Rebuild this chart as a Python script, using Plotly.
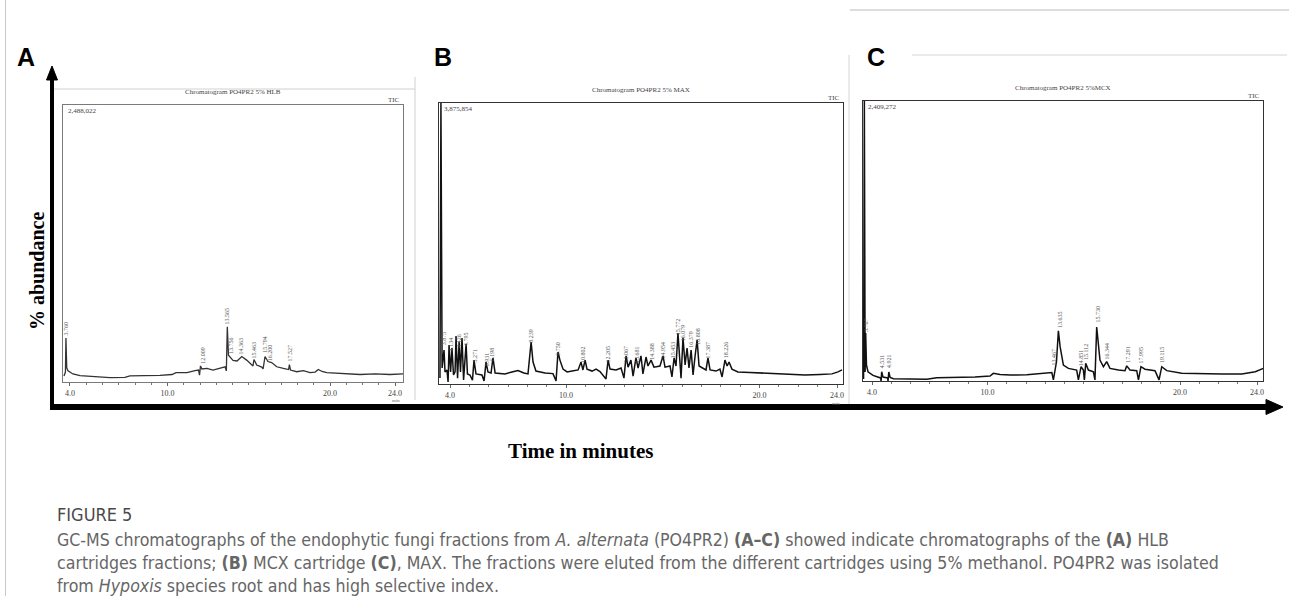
import plotly.graph_objects as go

# ---------------- data ----------------
# Panel A : HLB   (time in minutes, relative abundance in % of frame height)
A_time = [3.63, 3.72, 3.75, 3.80, 3.88, 4.18, 4.62, 5.42, 6.46, 7.38,
          7.69, 9.54, 10.28, 10.52, 11.20, 11.69, 11.91, 11.97, 12.03, 12.12,
          12.43, 12.80, 13.23, 13.54, 13.62, 13.68, 13.75, 13.85, 14.03, 14.28,
          14.57, 14.87, 15.18, 15.26, 15.32, 15.49, 15.80, 15.88, 16.00, 16.18,
          16.41, 16.72, 17.13, 17.45, 17.50, 17.57, 17.95, 18.36, 18.77, 19.08,
          19.28, 19.51, 19.80, 21.03, 21.85, 22.77, 23.69, 24.49]
A_abund = [2.2, 3.6, 15.9, 5.1, 4.0, 2.9, 2.3, 1.9, 1.6, 1.7,
           2.2, 2.4, 2.7, 3.4, 3.4, 4.1, 4.3, 2.5, 5.8, 4.7,
           4.9, 4.3, 5.1, 5.5, 4.0, 19.9, 9.7, 9.0, 7.8, 7.6,
           9.2, 7.9, 6.5, 5.8, 8.1, 6.1, 5.4, 4.7, 9.2, 7.4,
           7.0, 5.5, 4.9, 4.5, 6.3, 4.3, 3.7, 4.1, 3.4, 3.6,
           4.5, 3.8, 3.4, 2.9, 2.7, 2.9, 2.7, 2.9]
A_peak_time = [3.78, 12.18, 13.66, 13.94, 14.58, 15.32, 16.00, 16.30, 17.48]
A_peak_base = [16.2, 6.0, 20.2, 9.4, 9.4, 7.9, 9.7, 6.9, 6.5]
A_peak_text = ["3.760", "12.009", "13.565", "13.756", "14.363", "15.463",
               "15.794", "16.200", "17.527"]

# Panel B : MAX
B_time = [3.48, 3.53, 3.59, 3.69, 3.74, 3.84, 3.90, 3.95, 4.03, 4.10,
          4.18, 4.26, 4.31, 4.39, 4.47, 4.54, 4.62, 4.70, 4.83, 4.90,
          5.03, 5.16, 5.24, 5.34, 5.65, 5.76, 5.86, 5.96, 6.12, 6.22,
          6.33, 6.84, 7.20, 7.51, 7.82, 8.03, 8.19, 8.29, 8.44, 8.91,
          9.32, 9.48, 9.58, 9.68, 9.84, 10.05, 10.31, 10.62, 10.77, 10.87,
          10.98, 11.08, 11.34, 11.55, 11.75, 12.06, 12.17, 12.27, 12.58, 12.84,
          12.99, 13.10, 13.20, 13.35, 13.46, 13.61, 13.72, 13.87, 13.97, 14.13,
          14.23, 14.39, 14.54, 14.85, 15.01, 15.11, 15.37, 15.47, 15.58, 15.68,
          15.78, 15.89, 15.94, 16.04, 16.15, 16.25, 16.35, 16.46, 16.56, 16.66,
          16.77, 16.87, 17.08, 17.23, 17.33, 17.44, 17.75, 17.95, 18.06, 18.21,
          18.32, 18.42, 18.57, 18.88, 19.50, 20.02, 20.80, 21.57, 22.35, 23.12,
          23.74, 24.05, 24.26]
B_abund = [2.1, 100.0, 5.7, 12.1, 4.3, 5.0, 0.7, 13.9, 4.3, 12.8,
           3.2, 4.3, 17.1, 2.1, 14.9, 4.3, 16.4, 1.4, 14.2, 3.6,
           3.2, 1.4, 8.5, 3.6, 3.2, 1.1, 7.8, 4.3, 3.9, 9.3,
           3.9, 3.6, 4.3, 4.8, 3.9, 3.6, 14.9, 7.8, 4.6, 3.9,
           3.7, 1.1, 11.4, 8.5, 5.3, 4.3, 4.6, 5.0, 7.8, 5.0,
           8.5, 5.3, 4.6, 5.3, 4.4, 1.8, 8.5, 5.3, 5.0, 5.7,
           2.1, 10.0, 6.0, 8.5, 2.8, 9.3, 5.7, 10.0, 3.6, 9.6,
           6.4, 8.5, 6.0, 6.4, 10.0, 6.0, 6.4, 2.5, 9.3, 6.4,
           18.1, 7.8, 2.1, 16.4, 6.8, 12.8, 5.7, 12.1, 3.2, 9.6,
           15.7, 6.4, 5.7, 5.0, 9.3, 5.0, 4.6, 5.3, 2.5, 8.5,
           6.4, 7.8, 5.3, 4.3, 4.1, 3.9, 3.6, 3.4, 3.2, 3.4,
           3.6, 4.3, 5.0]
B_peak_time = [3.66, 4.05, 4.45, 4.83, 5.27, 5.93, 6.19, 8.17, 9.58, 10.90,
               12.17, 13.10, 13.70, 14.40, 15.00, 15.50, 15.78, 16.08, 16.42,
               16.80, 17.33, 18.25]
B_peak_base = [13.2, 10.9, 12.1, 12.8, 6.8, 5.7, 7.5, 13.9, 9.3, 6.8,
               6.8, 6.8, 6.8, 7.8, 8.5, 8.5, 16.8, 14.6, 12.1, 13.3,
               8.5, 8.5]
B_peak_text = ["3.875", "4.134", "4.426", "4.795", "5.271", "5.931", "6.198",
               "8.239", "9.750", "10.802", "12.205", "13.067", "13.681",
               "14.388", "14.954", "15.453", "15.772", "16.079", "16.379",
               "16.808", "17.387", "18.226"]

# Panel C : MCX
C_time = [3.56, 3.60, 3.64, 3.67, 3.71, 3.79, 4.05, 4.26, 4.44, 4.47,
          4.50, 4.57, 4.81, 4.83, 4.87, 4.94, 5.11, 5.97, 6.84, 7.36,
          8.57, 9.35, 10.13, 10.30, 10.65, 11.17, 12.04, 12.73, 13.34, 13.42,
          13.51, 13.58, 13.68, 13.77, 13.94, 14.20, 14.63, 14.72, 14.86, 14.98,
          15.03, 15.10, 15.24, 15.50, 15.58, 15.67, 15.84, 16.02, 16.19, 16.36,
          16.80, 17.14, 17.23, 17.40, 17.75, 17.84, 17.97, 18.18, 18.70, 18.91,
          19.05, 19.31, 20.09, 21.13, 22.17, 23.21, 23.91, 24.33]
C_abund = [0.7, 100.0, 3.2, 17.1, 5.7, 3.3, 2.0, 1.4, 1.1, 0.0,
           3.3, 1.4, 1.1, 0.0, 3.2, 1.25, 0.8, 0.7, 0.6, 1.2,
           1.3, 1.4, 1.8, 2.75, 2.3, 2.1, 2.25, 2.7, 3.0, 0.4,
           5.1, 6.8, 17.9, 12.25, 5.7, 4.5, 3.9, 0.4, 5.1, 3.9,
           0.4, 6.3, 3.9, 3.3, 0.4, 19.3, 7.5, 5.1, 6.9, 4.5,
           3.9, 3.7, 5.4, 3.9, 3.7, 0.4, 5.1, 4.2, 3.7, 0.4,
           5.1, 3.7, 2.75, 2.5, 2.5, 2.5, 3.3, 4.5]
C_peak_time = [3.69, 4.52, 4.88, 13.45, 13.74, 14.83, 15.12, 15.69, 16.21,
               17.25, 17.97, 19.06]
C_peak_base = [16.8, 3.9, 3.9, 5.0, 18.2, 4.6, 6.8, 20.0, 6.8, 5.7, 5.7, 5.7]
C_peak_text = ["3.787", "4.531", "4.921", "13.467", "13.635", "14.851",
               "15.112", "15.730", "16.344", "17.291", "17.995", "19.115"]

tick_vals = [4, 10, 20, 24]
tick_text = ["4.0", "10.0", "20.0", "24.0"]
minor_ticks = [4, 5, 6, 7, 8, 9, 10, 11, 12, 13, 14, 15, 16, 17, 18, 19, 20,
               21, 22, 23, 24]

panel_titles = ["Chromatogram PO4PR2 5% HLB", "Chromatogram PO4PR2 5% MAX",
                "Chromatogram PO4PR2 5%MCX"]
panel_max = ["2,488,022", "3,875,854", "2,409,272"]
panel_letters = ["A", "B", "C"]

caption_head = "FIGURE 5"
caption_lines = [
    "GC-MS chromatographs of the endophytic fungi fractions from <i>A. alternata</i> (PO4PR2) "
    "<b>(A–C)</b> showed indicate chromatographs of the <b>(A)</b> HLB",
    "cartridges fractions; <b>(B)</b> MCX cartridge <b>(C)</b>, MAX. The fractions were eluted "
    "from the different cartridges using 5% methanol. PO4PR2 was isolated",
    "from <i>Hypoxis</i> species root and has high selective index.",
]

# ---------------- layout helpers ----------------
W, H = 1289, 596


def X(px):
    return px / W


def Y(py):
    return 1 - py / H


SERIF = "Liberation Serif, Times New Roman, serif"
NARROW = "DejaVu Sans Condensed, Liberation Sans Narrow, sans-serif"

frames = [
    dict(l=63, r=403, t=105, b=382, xr=[3.57, 24.49], col="#7a7a7a", lw=1.3, lc="#333333"),
    dict(l=439, r=843, t=103, b=384, xr=[3.43, 24.31], col="#333333", lw=1.5, lc="#111111"),
    dict(l=863, r=1263, t=101, b=381, xr=[3.53, 24.31], col="#333333", lw=1.5, lc="#111111"),
]
series = [(A_time, A_abund), (B_time, B_abund), (C_time, C_abund)]
peaks = [(A_peak_time, A_peak_base, A_peak_text),
         (B_peak_time, B_peak_base, B_peak_text),
         (C_peak_time, C_peak_base, C_peak_text)]

fig = go.Figure()
layout_axes = {}
annotations = []
shapes = []


def note(px, py, text, size, color, family, xanchor="center", yanchor="middle", angle=0):
    return dict(x=X(px), y=Y(py), xref="paper", yref="paper", text=text, showarrow=False,
                xanchor=xanchor, yanchor=yanchor, textangle=angle,
                font=dict(family=family, size=size, color=color))


for i, (fr, (tx, ty), (pt, pb, ptxt)) in enumerate(zip(frames, series, peaks)):
    n = "" if i == 0 else str(i + 1)
    fig.add_trace(go.Scatter(x=tx, y=ty, mode="lines", xaxis="x" + n, yaxis="y" + n,
                             line=dict(color=fr["lc"], width=fr["lw"]),
                             hoverinfo="skip", showlegend=False))
    layout_axes["xaxis" + n] = dict(
        domain=[X(fr["l"]), X(fr["r"])], range=fr["xr"], anchor="y" + n,
        showline=True, mirror=True, linecolor=fr["col"], linewidth=1,
        ticks="outside", ticklen=3, tickcolor="#666", tickwidth=1,
        tickmode="array", tickvals=tick_vals, ticktext=tick_text,
        tickfont=dict(family=SERIF, size=8, color="#444"),
        minor=dict(tickmode="array", tickvals=minor_ticks, ticks="outside",
                   ticklen=2, tickcolor="#777"),
        showgrid=False, zeroline=False, fixedrange=True)
    layout_axes["yaxis" + n] = dict(
        domain=[Y(fr["b"]), Y(fr["t"])], range=[0, 100], anchor="x" + n,
        showline=True, mirror=True, linecolor=fr["col"], linewidth=1,
        showticklabels=False, ticks="", showgrid=False, zeroline=False,
        fixedrange=True)
    for t, b, s in zip(pt, pb, ptxt):
        annotations.append(dict(x=t, y=b, xref="x" + n, yref="y" + n, text=s,
                                textangle=-90, showarrow=False, xanchor="center",
                                yanchor="bottom",
                                font=dict(family=SERIF, size=6, color="#555")))
    annotations.append(note((fr["l"] + fr["r"]) / 2, fr["t"] - 13, panel_titles[i], 7,
                            "#444", SERIF))
    annotations.append(note(fr["r"] - 1, fr["t"] - 5, "TIC", 7, "#444", SERIF,
                            xanchor="right"))
    annotations.append(note(fr["l"] + 3, fr["t"] + 6, panel_max[i], 7, "#444", SERIF,
                            xanchor="left"))
    if i < 2:
        annotations.append(note(fr["r"] - 7, fr["b"] + 19, "min", 5, "#666", SERIF))

for s, (px, py) in zip(panel_letters, [(26, 57), (443, 57), (876, 57)]):
    annotations.append(note(px, py, "<b>%s</b>" % s, 25, "#000",
                            "Liberation Sans, Arial, sans-serif"))

annotations.append(note(37, 271, "<b>% abundance</b>", 20, "#000", SERIF, angle=-90))
annotations.append(note(580, 451, "<b>Time in minutes</b>", 21, "#000", SERIF))

annotations.append(note(55, 514, caption_head, 18, "#4a4a4a", NARROW, xanchor="left"))
for k, line in enumerate(caption_lines):
    annotations.append(note(55, 540 + 23 * k, line, 17.6, "#666", NARROW, xanchor="left"))


def hline(x0, x1, y, color, w):
    return dict(type="line", xref="paper", yref="paper", x0=X(x0), x1=X(x1), y0=Y(y), y1=Y(y),
                line=dict(color=color, width=w))


def vline(x, y0, y1, color, w):
    return dict(type="line", xref="paper", yref="paper", x0=X(x), x1=X(x), y0=Y(y0), y1=Y(y1),
                line=dict(color=color, width=w))


shapes += [vline(5.5, 0, 596, "#c8c8c8", 1),
           hline(850, 1289, 10, "#d2d2d2", 1.5),
           hline(53, 415, 89, "#d0d0d0", 1), vline(415, 77, 400, "#d0d0d0", 1),
           vline(849, 55, 410, "#d5d5d5", 1), hline(912, 1287, 55, "#d5d5d5", 1)]

shapes.append(vline(52, 409, 78, "#000", 4))
shapes.append(dict(type="path", xref="paper", yref="paper", fillcolor="#000",
                   line=dict(color="#000", width=1),
                   path="M %f %f L %f %f L %f %f Z" % (X(46.5), Y(80), X(57.5), Y(80),
                                                      X(52), Y(66))))
shapes.append(hline(50, 1268, 407, "#000", 6))
shapes.append(dict(type="path", xref="paper", yref="paper", fillcolor="#000",
                   line=dict(color="#000", width=1),
                   path="M %f %f L %f %f L %f %f Z" % (X(1266), Y(399.5), X(1266), Y(414.5),
                                                      X(1283), Y(407))))

fig.update_layout(width=W, height=H, margin=dict(l=0, r=0, t=0, b=0),
                  paper_bgcolor="white", plot_bgcolor="white", showlegend=False,
                  annotations=annotations, shapes=shapes, **layout_axes)

fig.write_html("out.html", config={"displayModeBar": False},
               post_script="document.body.style.margin='0px';")
